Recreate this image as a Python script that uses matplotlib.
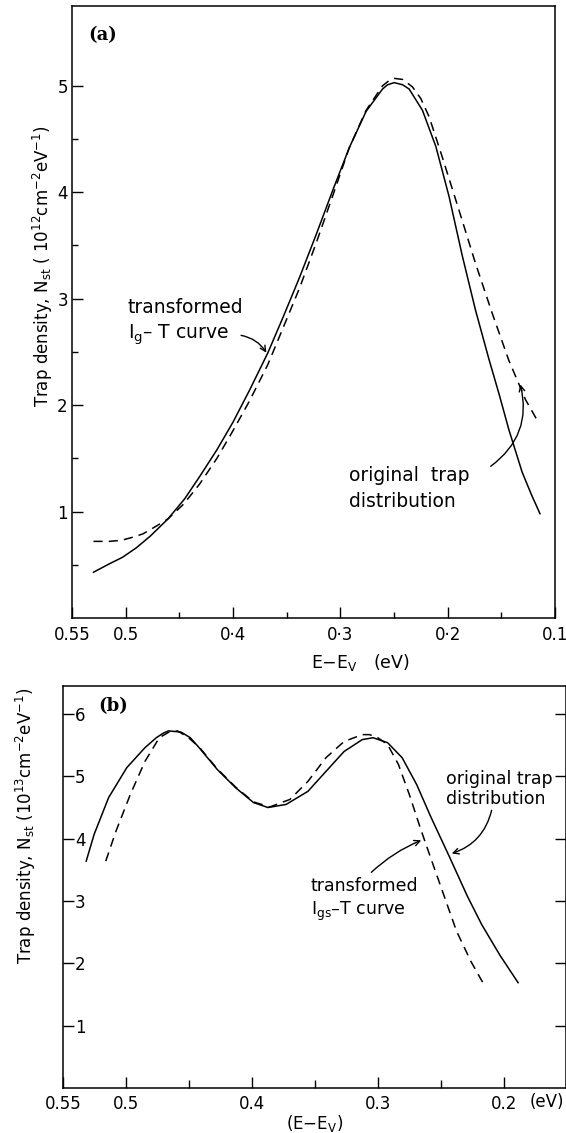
import matplotlib
matplotlib.use("Agg")
import matplotlib.pyplot as plt
from matplotlib.ticker import FixedLocator

plt.rcParams['font.family'] = ['DejaVu Sans']
plt.rcParams['mathtext.default'] = 'regular'

# ---- panel (a): trap density (1e12 cm^-2 eV^-1) vs E-Ev (eV) ----
a_solid_x = [0.530, 0.515, 0.503, 0.490, 0.477, 0.4607, 0.445, 0.431, 0.415, 0.400,
             0.3846, 0.3676, 0.3536, 0.338, 0.3226, 0.307, 0.2916, 0.276, 0.2607,
             0.256, 0.2498, 0.242, 0.2359, 0.2235, 0.211, 0.1987, 0.1863, 0.174,
             0.1615, 0.152, 0.143, 0.1306, 0.122, 0.114]
a_solid_y = [0.43, 0.51, 0.57, 0.66, 0.77, 0.93, 1.12, 1.33, 1.58, 1.84,
             2.14, 2.49, 2.82, 3.20, 3.60, 4.02, 4.42, 4.76, 4.97,
             5.01, 5.03, 5.01, 4.97, 4.77, 4.43, 3.96, 3.40, 2.89,
             2.43, 2.10, 1.77, 1.37, 1.16, 0.98]
a_dash_x = [0.530, 0.515, 0.504, 0.493, 0.484, 0.472, 0.4607, 0.446, 0.431, 0.415,
            0.400, 0.3846, 0.3676, 0.3536, 0.338, 0.3226, 0.307, 0.2916, 0.276,
            0.2607, 0.2545, 0.2498, 0.242, 0.2328, 0.225, 0.2173, 0.205, 0.1894,
            0.174, 0.1584, 0.143, 0.1274, 0.1167]
a_dash_y = [0.72, 0.72, 0.73, 0.76, 0.79, 0.86, 0.93, 1.07, 1.26, 1.50,
            1.76, 2.04, 2.38, 2.72, 3.10, 3.52, 3.97, 4.42, 4.77,
            5.00, 5.05, 5.07, 5.06, 4.99, 4.88, 4.71, 4.33, 3.83,
            3.33, 2.86, 2.42, 2.05, 1.86]

# ---- panel (b): trap density (1e13 cm^-2 eV^-1) vs E-Ev (eV) ----
b_solid_x = [0.5316, 0.5253, 0.5138, 0.4994, 0.485, 0.476, 0.4707, 0.4664, 0.4563,
             0.449, 0.442, 0.4276, 0.4132, 0.3989, 0.3874, 0.373, 0.3557, 0.3414,
             0.327, 0.3126, 0.304, 0.2925, 0.281, 0.2695, 0.258, 0.2437, 0.2293,
             0.2178, 0.2034, 0.189]
b_solid_y = [3.64, 4.07, 4.66, 5.14, 5.46, 5.62, 5.69, 5.73, 5.71,
             5.62, 5.46, 5.11, 4.82, 4.58, 4.50, 4.55, 4.76, 5.08,
             5.40, 5.59, 5.62, 5.54, 5.30, 4.87, 4.34, 3.72, 3.08,
             2.62, 2.13, 1.69]
b_dash_x = [0.5161, 0.508, 0.4966, 0.485, 0.4736, 0.4660, 0.4592, 0.451, 0.442,
            0.4276, 0.4132, 0.3989, 0.3859, 0.370, 0.3557, 0.3414, 0.327, 0.3126,
            0.307, 0.301, 0.2925, 0.2839, 0.2753, 0.2667, 0.2595, 0.2494, 0.2379,
            0.2264, 0.2164]
b_dash_y = [3.64, 4.12, 4.71, 5.24, 5.62, 5.71, 5.73, 5.63, 5.47,
            5.12, 4.83, 4.59, 4.51, 4.63, 4.92, 5.30, 5.56, 5.67,
            5.67, 5.63, 5.51, 5.19, 4.71, 4.18, 3.76, 3.18, 2.52,
            2.03, 1.67]

a_xticks = [0.55, 0.5, 0.4, 0.3, 0.2, 0.1]
a_xticklabels = ['0.55', '0.5', '0·4', '0·3', '0·2', '0.1']
a_yticks = [1, 2, 3, 4, 5]
b_xticks = [0.55, 0.5, 0.4, 0.3, 0.2]
b_xticklabels = ['0.55', '0.5', '0.4', '0.3', '0.2']
b_yticks = [1, 2, 3, 4, 5, 6]

W, H = 566, 1133
fig = plt.figure(figsize=(W / 100, H / 100), dpi=100)

# ================= panel (a) =================
ax = fig.add_axes([72 / W, 1 - 618 / H, 483 / W, 612 / H])
ax.plot(a_solid_x, a_solid_y, color='black', lw=1.1)
ax.plot(a_dash_x, a_dash_y, color='black', lw=1.1, dashes=(6, 4))
ax.set_xlim(0.55, 0.1)
ax.set_ylim(0, 5.75)
ax.xaxis.set_major_locator(FixedLocator(a_xticks))
ax.set_xticklabels(a_xticklabels)
ax.xaxis.set_minor_locator(FixedLocator([0.45, 0.35, 0.25, 0.15]))
ax.yaxis.set_major_locator(FixedLocator(a_yticks))
ax.yaxis.set_minor_locator(FixedLocator([0.5, 1.5, 2.5, 3.5, 4.5]))
ax.tick_params(axis='both', which='major', direction='in', length=8, width=1,
               labelsize=12, pad=6)
ax.tick_params(axis='both', which='minor', direction='in', length=4, width=1)
ax.tick_params(axis='y', which='major', pad=3)
for s in ax.spines.values():
    s.set_linewidth(1.1)
ax.set_ylabel('Trap density, N$_{st}$ ( 10$^{12}$cm$^{-2}$eV$^{-1}$)', fontsize=12)
ax.yaxis.set_label_coords(-0.036, 0.575)
ax.text(0.596, -0.072, 'E$-$E$_V$   (eV)', transform=ax.transAxes, fontsize=12.5,
        ha='center', va='center')
ax.text(0.535, 5.48, '(a)', fontsize=13, fontweight='bold', family='DejaVu Serif',
        va='center', ha='left')
ax.text(0.498, 2.92, 'transformed', fontsize=13.5, va='center')
ax.text(0.498, 2.66, 'I$_g$– T curve', fontsize=13.5, va='center')
ax.annotate('', xy=(0.3676, 2.47), xytext=(0.395, 2.66),
            arrowprops=dict(arrowstyle='->', lw=1, color='black',
                            connectionstyle='arc3,rad=-0.25'))
ax.text(0.292, 1.34, 'original  trap', fontsize=13.5, va='center')
ax.text(0.292, 1.09, 'distribution', fontsize=13.5, va='center')
ax.annotate('', xy=(0.133, 2.22), xytext=(0.162, 1.41),
            arrowprops=dict(arrowstyle='->', lw=1, color='black',
                            connectionstyle='arc3,rad=0.35'))

# ================= panel (b) =================
bx = fig.add_axes([63 / W, 1 - 1088 / H, 503 / W, 402 / H])
bx.plot(b_solid_x, b_solid_y, color='black', lw=1.1)
bx.plot(b_dash_x, b_dash_y, color='black', lw=1.1, dashes=(6, 4))
bx.set_xlim(0.55, 0.151)
bx.set_ylim(0, 6.45)
bx.xaxis.set_major_locator(FixedLocator(b_xticks))
bx.set_xticklabels(b_xticklabels)
bx.xaxis.set_minor_locator(FixedLocator([0.45, 0.35, 0.25]))
bx.yaxis.set_major_locator(FixedLocator(b_yticks))
bx.tick_params(axis='x', which='major', direction='in', length=8, width=1,
               labelsize=12, pad=5)
bx.tick_params(axis='x', which='minor', direction='in', length=6, width=1)
bx.tick_params(axis='y', which='major', direction='in', length=8, width=1,
               labelsize=12, pad=-8.5, right=True)
for lab in bx.get_yticklabels():
    lab.set_horizontalalignment('left')
for s in bx.spines.values():
    s.set_linewidth(1.1)
bx.set_ylabel('Trap density, N$_{st}$ (10$^{13}$cm$^{-2}$eV$^{-1}$)', fontsize=12)
bx.yaxis.set_label_coords(-0.05, 0.652)
bx.set_xlabel('(E$-$E$_V$)', fontsize=12, labelpad=0)
bx.text(0.166, -0.036, '(eV)', transform=bx.get_xaxis_transform(), fontsize=12,
        ha='center', va='center')
bx.text(0.522, 6.12, '(b)', fontsize=13, fontweight='bold', family='DejaVu Serif',
        va='center', ha='left')
bx.text(0.246, 4.96, 'original trap', fontsize=12.5, va='center')
bx.text(0.246, 4.63, 'distribution', fontsize=12.5, va='center')
bx.annotate('', xy=(0.2437, 3.75), xytext=(0.2095, 4.50),
            arrowprops=dict(arrowstyle='->', lw=1, color='black',
                            connectionstyle='arc3,rad=-0.3'))
bx.text(0.354, 3.24, 'transformed', fontsize=12.5, va='center')
bx.text(0.353, 2.84, 'I$_{gs}$–T curve', fontsize=12.5, va='center')
bx.annotate('', xy=(0.2638, 3.99), xytext=(0.307, 3.43),
            arrowprops=dict(arrowstyle='->', lw=1, color='black',
                            connectionstyle='arc3,rad=-0.1'))

fig.savefig('out.png', dpi=100)
